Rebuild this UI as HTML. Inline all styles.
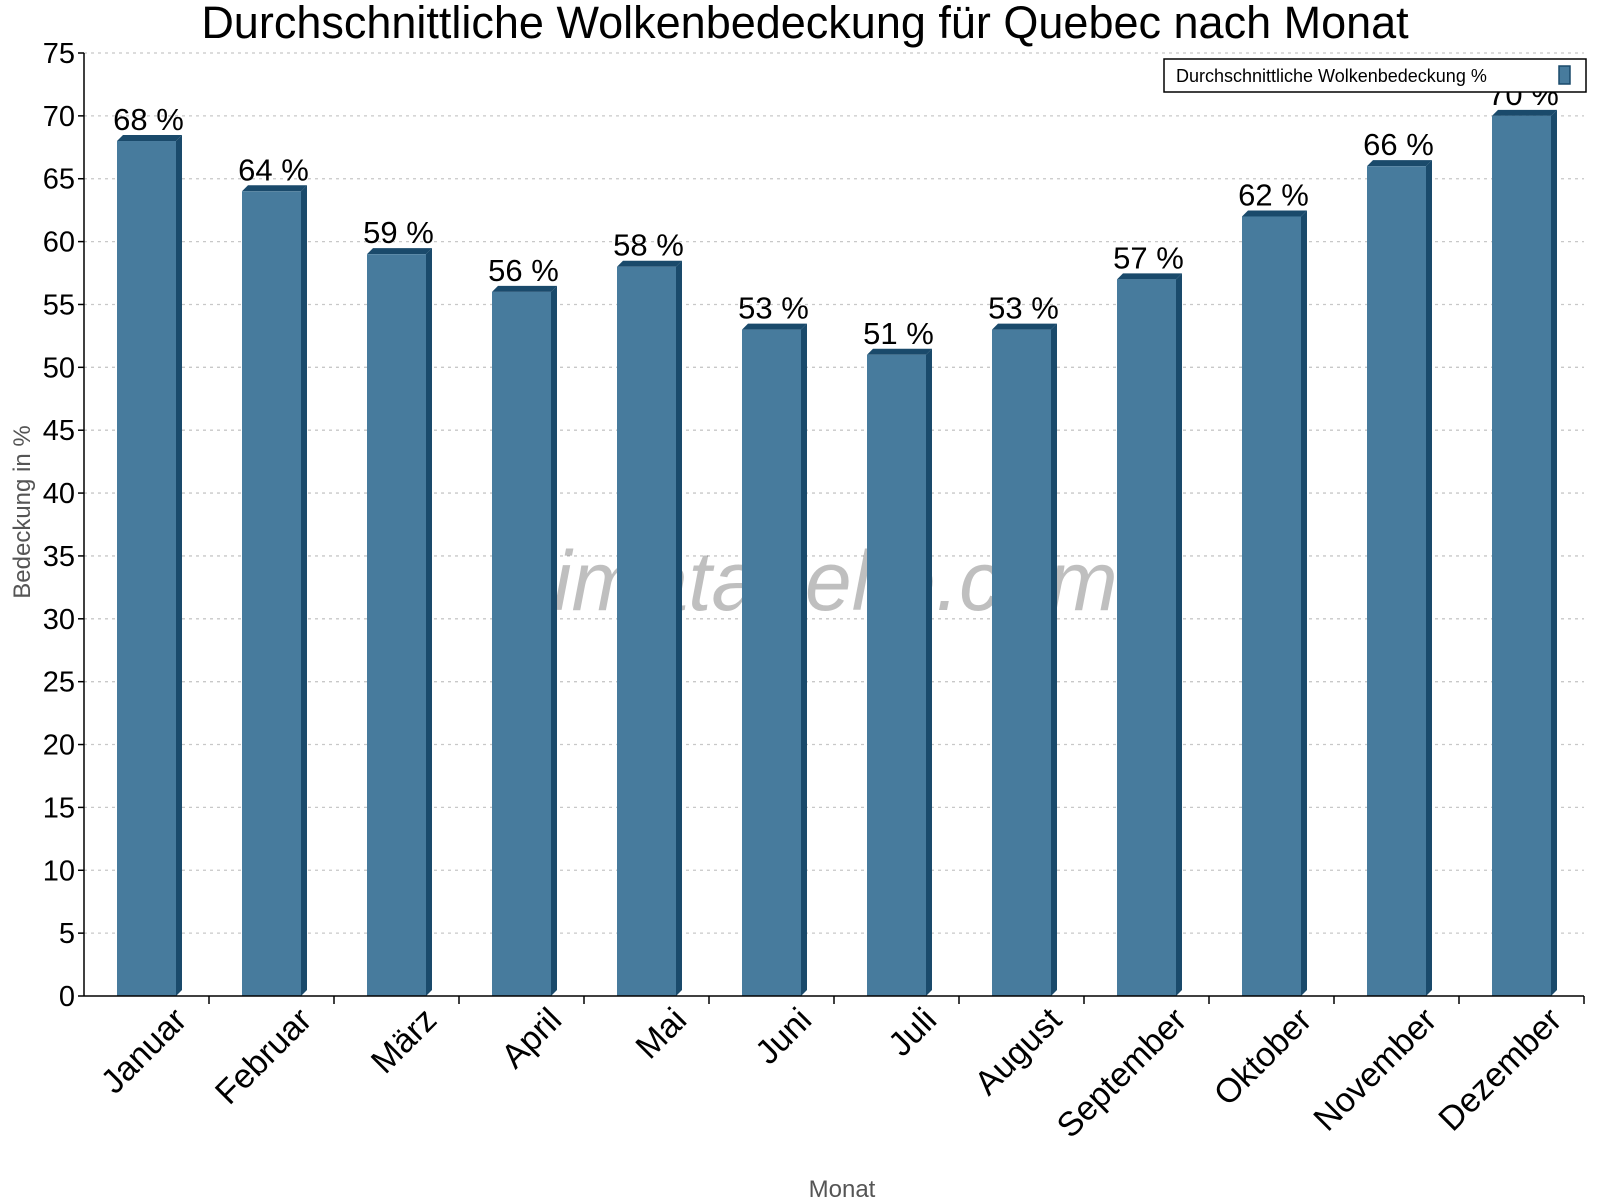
<!DOCTYPE html>
<html><head><meta charset="utf-8"><style>
body{margin:0;background:#fff}
svg{display:block;font-family:"Liberation Sans",Arial,sans-serif}
</style></head><body>
<svg id="chart" width="1600" height="1200" viewBox="0 0 1600 1200">
<text x="805" y="38" font-size="45" text-anchor="middle" fill="#000">Durchschnittliche Wolkenbedeckung für Quebec nach Monat</text>
<g id="grid"></g>
<text x="805" y="610" font-size="84" font-style="italic" text-anchor="middle" fill="#000" fill-opacity="0.25">klimatabelle.com</text>
<g id="bars"></g>
<g id="axes"></g>
<text transform="translate(30,512) rotate(-90)" font-size="24" text-anchor="middle" fill="#555">Bedeckung in %</text>
<text x="842" y="1197" font-size="24" text-anchor="middle" fill="#555">Monat</text>
<g>
<rect x="1164" y="59" width="422" height="33" fill="#fff" stroke="#000" stroke-width="1.5"/>
<text x="1176" y="82" font-size="18" fill="#000">Durchschnittliche Wolkenbedeckung %</text>
<rect x="1559" y="66" width="11" height="18" fill="#477b9d" stroke="#1a4a6b" stroke-width="1.5"/>
</g>
</svg>
<script>
const months=["Januar","Februar","März","April","Mai","Juni","Juli","August","September","Oktober","November","Dezember"];
const values=[68,64,59,56,58,53,51,53,57,62,66,70];
const yTicks=[0,5,10,15,20,25,30,35,40,45,50,55,60,65,70,75];
const NS="http://www.w3.org/2000/svg";
const L=84,R=1584,T=53,B=996,yMax=75;
const bw=(R-L)/months.length;
const y=v=>B-(B-T)*v/yMax;
const xc=i=>L+bw*(i+0.5);
function mk(tag,attrs,parent){const e=document.createElementNS(NS,tag);for(const k in attrs)e.setAttribute(k,attrs[k]);parent.appendChild(e);return e;}
const grid=document.getElementById('grid'),bars=document.getElementById('bars'),axes=document.getElementById('axes');
yTicks.forEach(t=>{
 if(t>0){const g=mk('line',{x1:L,x2:R,y1:y(t),y2:y(t),stroke:'#c8c8c8','stroke-dasharray':'3,4','stroke-width':1.3},grid);
 
 }
 const tk=mk('line',{x1:L-6,x2:L,y1:y(t),y2:y(t),stroke:'#000','stroke-width':1.5},axes);
 
 
 const tx=mk('text',{x:L-9,y:y(t)+10,'font-size':29,'text-anchor':'end',fill:'#000'},axes);
 tx.textContent=t;
 
 
});
const fw=59,d=6;
months.forEach((m,i)=>{
 const x0=xc(i)-fw/2,yt=y(values[i]);
 const g=mk('g',{},bars);
 
 
 mk('polygon',{points:`${x0+fw},${yt} ${x0+fw+d},${yt-d} ${x0+fw+d},${B-d} ${x0+fw},${B}`,fill:'#1a4a6b'},g);
 mk('polygon',{points:`${x0},${yt} ${x0+d},${yt-d} ${x0+fw+d},${yt-d} ${x0+fw},${yt}`,fill:'#1a4a6b'},g);
 mk('rect',{x:x0,y:yt,width:fw,height:B-yt,fill:'#477b9d'},g);
 const lb=mk('text',{x:xc(i)+2,y:yt-11,'font-size':31,'text-anchor':'middle',fill:'#000'},bars);
 lb.textContent=values[i]+' %';
 
 
 const tk=mk('line',{x1:L+bw*(i+1),x2:L+bw*(i+1),y1:B,y2:B+8,stroke:'#000','stroke-width':1.5},axes);
 
 
 const ml=mk('text',{transform:`translate(${xc(i)+42},${B+26}) rotate(-45)`,'font-size':34,'text-anchor':'end',fill:'#000'},axes);
 ml.textContent=m;
 
 
});
const ya=mk('line',{x1:L,x2:L,y1:T,y2:B,stroke:'#000','stroke-width':1.5},axes);


const xa=mk('line',{x1:L,x2:R,y1:B,y2:B,stroke:'#000','stroke-width':1.5},axes);


</script>
</body></html>
